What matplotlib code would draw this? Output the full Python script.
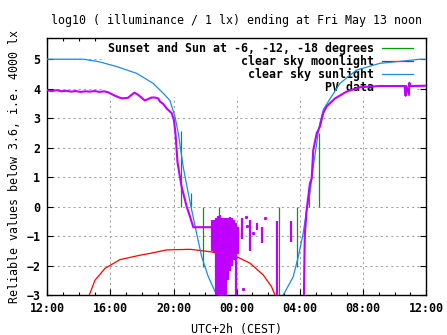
import matplotlib
matplotlib.use("Agg")
import matplotlib.pyplot as plt
from matplotlib.ticker import MultipleLocator, FixedLocator
from matplotlib.lines import Line2D

# hours after 12:00 on the day before
sun_t = [0.0, 2.28, 3.23, 4.40, 5.66, 6.71, 7.35, 7.77, 8.09, 8.30, 8.61, 8.93, 9.15,
         9.46, 9.78, 10.20, 10.73, 11.2, 14.5, 14.95, 15.58, 15.90, 16.21, 16.43, 16.64,
         16.85, 17.16, 17.27, 17.48, 17.80, 18.54, 19.59, 21.07, 22.76, 23.60, 24.0]
sun_v = [5.0, 5.0, 4.92, 4.75, 4.52, 4.18, 3.84, 3.60, 3.05, 2.49, 1.35, 0.45, -0.12,
         -0.91, -1.70, -2.38, -3.0, -3.4, -3.4, -3.0, -2.38, -1.70, -0.91, -0.12, 0.45,
         1.35, 2.49, 2.83, 3.28, 3.56, 4.18, 4.63, 4.86, 4.95, 5.0, 5.0]

moon_t = [2.4, 2.66, 3.02, 3.65, 4.60, 5.87, 6.50, 7.56, 9.04, 10.30, 11.99, 12.84,
          13.68, 14.21, 14.42, 14.6]
moon_v = [-3.3, -3.0, -2.5, -2.1, -1.8, -1.65, -1.59, -1.47, -1.45, -1.53, -1.70,
          -1.92, -2.32, -2.72, -3.0, -3.3]

pv_eve_t = [0.0, 0.3, 0.6, 0.9, 1.2, 1.5, 1.8, 2.1, 2.4, 2.7, 3.0, 3.3, 3.6, 3.84,
            4.29, 4.71, 5.11, 5.36, 5.51, 5.68, 5.87, 6.18, 6.61, 6.82, 7.03, 7.14,
            7.35, 7.56, 7.88, 8.02, 8.12, 8.25, 8.51, 8.83, 9.04, 9.25, 10.41]
pv_eve_v = [3.94, 3.92, 3.95, 3.91, 3.93, 3.90, 3.92, 3.89, 3.91, 3.90, 3.92, 3.89,
            3.91, 3.88, 3.76, 3.67, 3.69, 3.80, 3.86, 3.82, 3.74, 3.60, 3.70, 3.70,
            3.67, 3.56, 3.48, 3.33, 3.17, 2.94, 2.49, 1.50, 0.67, 0.0, -0.34, -0.70,
            -0.70]

pv_morn_t = [16.26, 16.29, 16.32, 16.43, 16.64, 16.75, 16.85, 17.07, 17.27, 17.48,
             17.70, 18.23, 18.96, 19.80, 21.07, 22.64, 22.70, 22.75, 22.91, 22.94,
             22.97, 24.0]
pv_morn_v = [-3.0, -1.7, -0.91, -0.12, 0.79, 0.96, 1.92, 2.49, 2.71, 3.17, 3.40, 3.67,
             3.90, 4.05, 4.09, 4.09, 3.76, 4.09, 3.79, 4.20, 4.09, 4.10]

# noisy night readings: time, lowest, highest
pv_night_t = [10.43, 10.56, 10.68, 10.81, 10.94, 11.06, 11.19, 11.32, 11.44, 11.57,
              11.70, 11.82, 11.95, 12.08, 12.31, 12.84, 13.28, 13.58, 14.53, 15.41]
pv_night_lo = [-1.5, -1.55, -3.0, -3.0, -3.0, -3.0, -3.0, -3.0, -2.5, -2.2, -2.0,
               -1.8, -3.0, -1.6, -1.1, -1.5, -0.8, -1.25, -3.0, -1.2]
pv_night_hi = [-0.45, -0.45, -0.40, -0.33, -0.30, -0.38, -0.40, -0.40, -0.38, -0.36,
               -0.40, -0.45, -0.55, -0.70, -0.40, -0.45, -0.55, -0.70, -0.50, -0.50]
pv_dot_t = [12.58, 13.03, 13.79, 12.37, 12.65]
pv_dot_v = [-0.35, -0.9, -0.4, -2.8, -0.65]

# sunset / -6 / -12 / -18 degrees, evening and morning
twi_t = [8.45, 9.08, 9.88, 10.89, 14.69, 15.79, 16.57, 17.23]
twi_top = [2.55, 0.45, -2.04, -3.0, -3.0, -2.04, 0.45, 2.49]

xtick_labels = ["12:00", "16:00", "20:00", "00:00", "04:00", "08:00", "12:00"]

BLUE = "#1a8ce6"
RED = "#ff0000"
GREEN = "#00a000"
PURPLE = "#c000ff"

plt.rcParams["font.family"] = "DejaVu Sans Mono"
plt.rcParams["font.weight"] = "bold"
plt.rcParams["font.size"] = 8.4

fig = plt.figure(figsize=(4.47, 3.35), dpi=100)
ax = fig.add_axes([0.1058, 0.1194, 0.8475, 0.7672])

ax.vlines(twi_t, 0, twi_top, color=GREEN, lw=0.9, zorder=3)
ax.plot(moon_t, moon_v, color=RED, lw=0.9, zorder=3)
ax.plot(sun_t, sun_v, color=BLUE, lw=0.9, zorder=3)
ax.plot(pv_eve_t, pv_eve_v, color=PURPLE, lw=1.5, zorder=4)
ax.plot(pv_morn_t, pv_morn_v, color=PURPLE, lw=1.5, zorder=4)
ax.vlines(pv_night_t, pv_night_lo, pv_night_hi, color=PURPLE, lw=1.6, zorder=4)
ax.plot(pv_dot_t, pv_dot_v, ls="none", marker="s", ms=1.2, color=PURPLE, zorder=4)

ax.set_xlim(0, 24)
ax.set_ylim(-3, 5.72)
ax.xaxis.set_major_locator(FixedLocator(range(0, 25, 4)))
ax.set_xticklabels(xtick_labels)
ax.xaxis.set_minor_locator(MultipleLocator(1))
ax.yaxis.set_major_locator(FixedLocator(range(-3, 6)))
ax.tick_params(which="both", direction="in", top=True, right=True, width=0.8)
ax.tick_params(which="major", length=4, pad=5)
ax.tick_params(which="minor", length=2)
for s in ax.spines.values():
    s.set_linewidth(1.0)
ax.set_axisbelow(True)
ax.grid(True, which="major", color="#a0a0a0", lw=0.75, ls=(0, (2, 3)))

ax.set_title("log10 ( illuminance / 1 lx) ending at Fri May 13 noon",
             fontsize=8.4, pad=10)
ax.set_xlabel("UTC+2h (CEST)", labelpad=6)
ax.set_ylabel("Reliable values below 3.6, i.e. 4000 lx", labelpad=4)

handles = [Line2D([], [], color=GREEN, lw=0.9),
           Line2D([], [], color=RED, lw=0.9),
           Line2D([], [], color=BLUE, lw=0.9),
           Line2D([], [], color="none")]
labels = ["Sunset and Sun at -6, -12, -18 degrees", "clear sky moonlight",
          "clear sky sunlight", "PV data"]
leg = ax.legend(handles, labels, loc="upper right", bbox_to_anchor=(0.977, 1.0),
                markerfirst=False, frameon=True, fancybox=False, framealpha=1,
                edgecolor="none", borderpad=0.25, borderaxespad=0.1,
                handlelength=2.7, handletextpad=0.7, labelspacing=0.0)
leg.set_zorder(2)

fig.savefig("out.png", dpi=100)
